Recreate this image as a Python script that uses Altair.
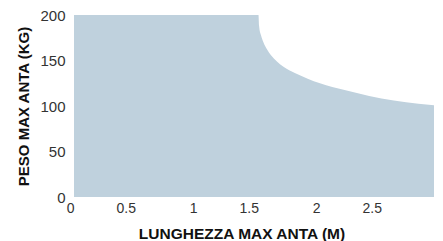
import altair as alt
import pandas as pd

lengths = [0, 1.5, 1.505, 1.52, 1.54, 1.57, 1.6, 1.65, 1.7, 1.8, 1.9, 2.0, 2.2, 2.4, 2.6, 2.8, 3.0]
weights = [200, 200, 188, 178, 170, 162, 156, 149, 143.5, 136, 130, 125, 117.5, 111, 106, 102.5, 100]

x_ticks = [0, 0.5, 1, 1.5, 2, 2.5]
y_ticks = [0, 50, 100, 150, 200]

df = pd.DataFrame({"L": lengths, "W": weights})

chart = alt.Chart(df).mark_area(color="#bfd1dd", interpolate="monotone", opacity=1, clip=True).encode(
    x=alt.X("L:Q", scale=alt.Scale(domain=[0, 2.927], nice=False),
            axis=alt.Axis(title="LUNGHEZZA MAX ANTA (M)", values=x_ticks, grid=False, domain=False,
                          ticks=False, labelAlign="right", labelPadding=4, labelFontSize=14,
                          format="~g",
                          labelColor="#333", labelFont="Liberation Sans", titleFont="Liberation Sans",
                          titleFontSize=15.5, titleFontWeight="bold", titleColor="#111",
                          titlePadding=11, titleX=167.5, labelFlush=False, labelOverlap=False)),
    y=alt.Y("W:Q", scale=alt.Scale(domain=[0, 200], nice=False),
            axis=alt.Axis(title="PESO MAX ANTA (KG)", values=y_ticks, grid=False, domain=False,
                          ticks=False, labelPadding=9, labelFontSize=15, labelColor="#333",
                          labelFont="Liberation Sans", titleFont="Liberation Sans",
                          titleFontSize=15, titleFontWeight="bold", titleColor="#111",
                          titlePadding=8, labelFlush=False, labelOverlap=False)),
).properties(width=360, height=182, padding={"left": 8, "top": 0, "right": 0, "bottom": 0}
).configure_view(stroke=None)

chart.save("out.html", embed_options={"renderer": "svg", "actions": False})
